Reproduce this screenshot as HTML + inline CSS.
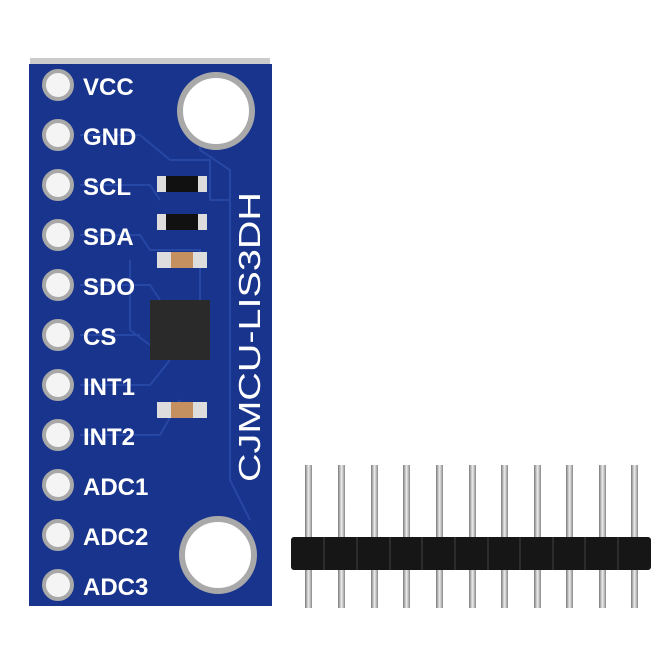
<!DOCTYPE html>
<html><head><style>body{margin:0;background:#fff}svg{display:block}</style></head><body>
<svg width="670" height="670" viewBox="0 0 670 670" xmlns="http://www.w3.org/2000/svg">
<defs>
<linearGradient id="pin" x1="0" x2="1"><stop offset="0" stop-color="#777"/><stop offset=".5" stop-color="#eee"/><stop offset="1" stop-color="#888"/></linearGradient>
</defs>
<rect x="30" y="58" width="240" height="10" fill="#ccc"/>
<rect x="29" y="64" width="243" height="542" fill="#18348c"/>
<g fill="none" stroke="#2747a5" stroke-width="2">
<path d="M80 135 H140 L170 160 H210 V200 H230"/><path d="M80 185 H150 L160 200"/><path d="M80 235 H140 L150 250 H200 V300"/>
<path d="M80 285 H150 L160 300"/><path d="M80 335 H140"/><path d="M80 385 H150 L170 360"/><path d="M80 435 H160 L180 400"/>
<path d="M200 120 V150 L230 170 V480 L250 520"/><path d="M130 260 V330 L150 345"/>
</g>
<g fill="#f4f4f4" stroke="#a8a8a8" stroke-width="4">
<circle cx="58" cy="85" r="14"/><circle cx="58" cy="135" r="14"/><circle cx="58" cy="185" r="14"/><circle cx="58" cy="235" r="14"/><circle cx="58" cy="285" r="14"/><circle cx="58" cy="335" r="14"/><circle cx="58" cy="385" r="14"/><circle cx="58" cy="435" r="14"/><circle cx="58" cy="485" r="14"/><circle cx="58" cy="535" r="14"/><circle cx="58" cy="585" r="14"/>
</g>
<circle cx="216" cy="111" r="36" fill="#fff" stroke="#a9a9a9" stroke-width="6"/>
<circle cx="218" cy="555" r="36" fill="#fff" stroke="#a9a9a9" stroke-width="6"/>
<g font-family="Liberation Sans, sans-serif" font-size="24" font-weight="bold" fill="#fff">
<text x="83" y="95">VCC</text><text x="83" y="145">GND</text><text x="83" y="195">SCL</text><text x="83" y="245">SDA</text><text x="83" y="295">SDO</text><text x="83" y="345">CS</text><text x="83" y="395">INT1</text><text x="83" y="445">INT2</text><text x="83" y="495">ADC1</text><text x="83" y="545">ADC2</text><text x="83" y="595">ADC3</text>
</g>
<text transform="translate(260,482) rotate(-90)" font-family="Liberation Sans, sans-serif" font-size="31" fill="#fff" textLength="290" lengthAdjust="spacingAndGlyphs">CJMCU-LIS3DH</text>
<g>
<rect x="157" y="176" width="50" height="16" fill="#111"/><rect x="157" y="176" width="9" height="16" fill="#ddd"/><rect x="198" y="176" width="9" height="16" fill="#ddd"/>
<rect x="157" y="214" width="50" height="16" fill="#111"/><rect x="157" y="214" width="9" height="16" fill="#ddd"/><rect x="198" y="214" width="9" height="16" fill="#ddd"/>
<rect x="157" y="252" width="50" height="16" fill="#c49060"/><rect x="157" y="252" width="14" height="16" fill="#ddd"/><rect x="193" y="252" width="14" height="16" fill="#ddd"/>
<rect x="157" y="402" width="50" height="16" fill="#c49060"/><rect x="157" y="402" width="14" height="16" fill="#ddd"/><rect x="193" y="402" width="14" height="16" fill="#ddd"/>
<rect x="150" y="300" width="60" height="60" fill="#2a2a2a"/>
</g>
<g fill="url(#pin)">
<rect x="305" y="465" width="7" height="143"/><rect x="338" y="465" width="7" height="143"/><rect x="371" y="465" width="7" height="143"/><rect x="403" y="465" width="7" height="143"/><rect x="436" y="465" width="7" height="143"/><rect x="469" y="465" width="7" height="143"/><rect x="501" y="465" width="7" height="143"/><rect x="534" y="465" width="7" height="143"/><rect x="566" y="465" width="7" height="143"/><rect x="599" y="465" width="7" height="143"/><rect x="631" y="465" width="7" height="143"/>
</g>
<rect x="291" y="537" width="360" height="33" rx="3" fill="#161616"/>
<g stroke="#333" stroke-width="1.5">
<line x1="324" y1="537" x2="324" y2="570"/><line x1="357" y1="537" x2="357" y2="570"/><line x1="390" y1="537" x2="390" y2="570"/><line x1="422" y1="537" x2="422" y2="570"/><line x1="455" y1="537" x2="455" y2="570"/><line x1="488" y1="537" x2="488" y2="570"/><line x1="520" y1="537" x2="520" y2="570"/><line x1="553" y1="537" x2="553" y2="570"/><line x1="585" y1="537" x2="585" y2="570"/><line x1="618" y1="537" x2="618" y2="570"/>
</g>
</svg>
</body></html>
